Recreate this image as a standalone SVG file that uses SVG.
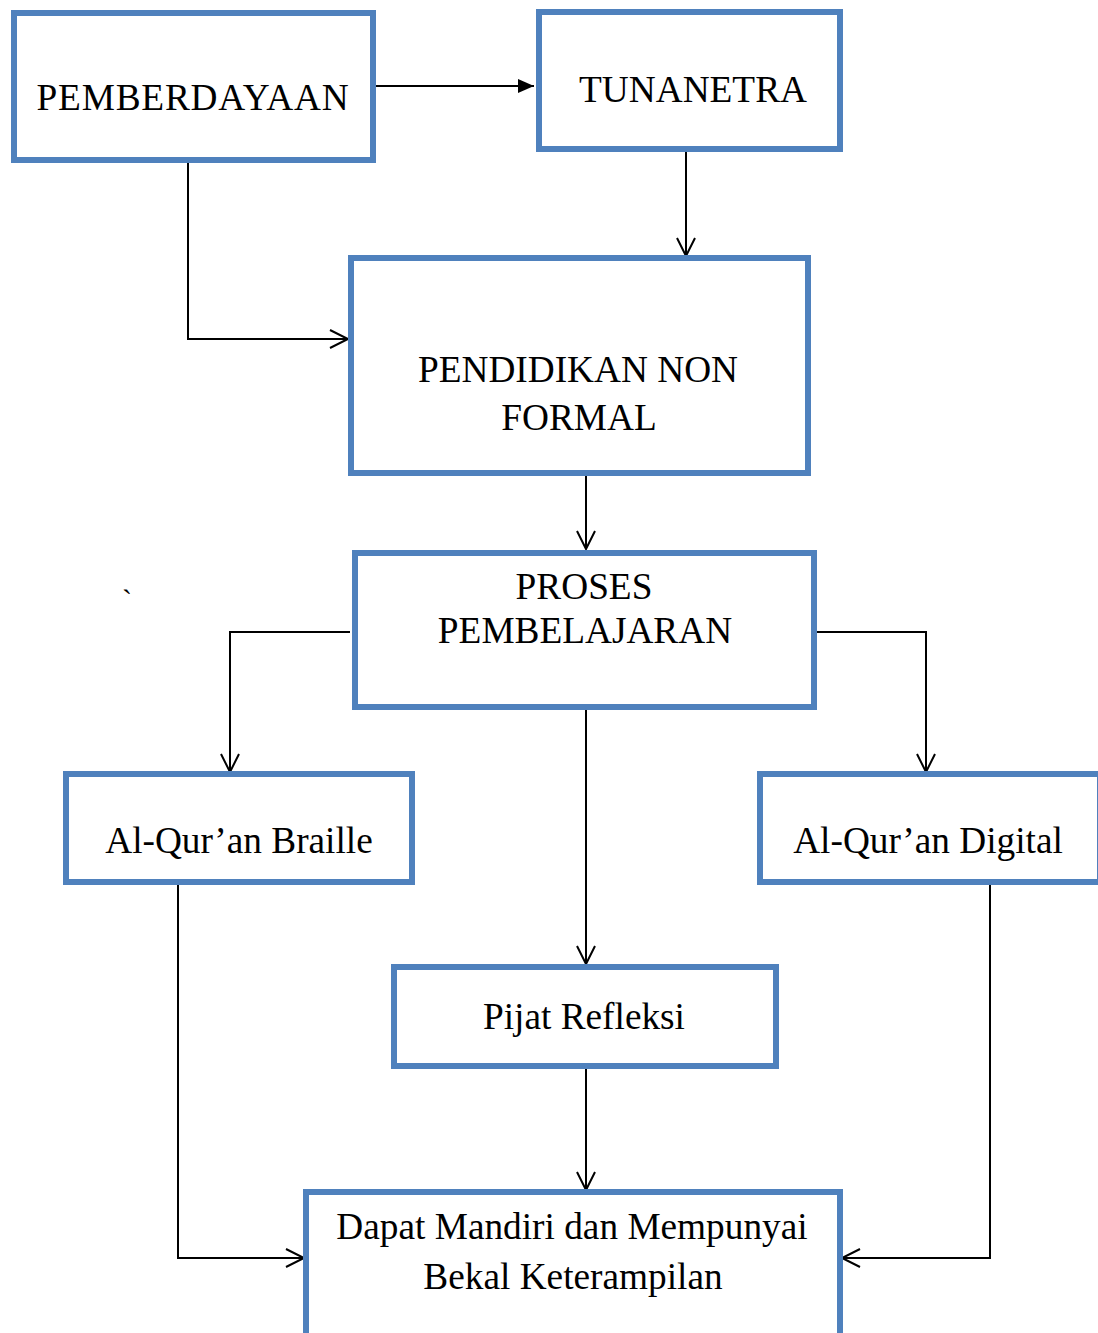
<svg xmlns="http://www.w3.org/2000/svg" width="1098" height="1333" viewBox="0 0 1098 1333">
<style>
.box{fill:#fff;stroke:#4F81BD;stroke-width:6}
.t{font-family:"Liberation Serif","Times New Roman",serif;font-size:37.3px;fill:#000;text-anchor:middle}
.c{fill:none;stroke:#000;stroke-width:2}
</style>
<defs>
<marker id="open" markerWidth="24" markerHeight="24" refX="20" refY="10" orient="auto" markerUnits="userSpaceOnUse">
<path d="M2,1 L20,10 L2,19" fill="none" stroke="#000" stroke-width="2"/>
</marker>
<marker id="solid" markerWidth="20" markerHeight="16" refX="16" refY="7" orient="auto" markerUnits="userSpaceOnUse">
<path d="M0,0 L16,7 L0,14 Z" fill="#000"/>
</marker>
</defs>
<rect width="1098" height="1333" fill="#fff"/>
<g id="connectors">
<line class="c" x1="376" y1="86" x2="534" y2="86" marker-end="url(#solid)"/>
<line class="c" x1="686" y1="152" x2="686" y2="256" marker-end="url(#open)"/>
<polyline class="c" points="188,163 188,339 348,339" marker-end="url(#open)"/>
<line class="c" x1="586" y1="476" x2="586" y2="549" marker-end="url(#open)"/>
<polyline class="c" points="350,632 230,632 230,772" marker-end="url(#open)"/>
<polyline class="c" points="817,632 926,632 926,772" marker-end="url(#open)"/>
<line class="c" x1="586" y1="710" x2="586" y2="964" marker-end="url(#open)"/>
<polyline class="c" points="178,885 178,1258 304,1258" marker-end="url(#open)"/>
<polyline class="c" points="990,885 990,1258 842,1258" marker-end="url(#open)"/>
<line class="c" x1="586" y1="1069" x2="586" y2="1190" marker-end="url(#open)"/>
</g>
<g id="n1"><rect class="box" x="14" y="13" width="359" height="147"/><text class="t" x="193" y="110" letter-spacing="0.8">PEMBERDAYAAN</text></g>
<g id="n2"><rect class="box" x="539" y="12" width="301" height="137"/><text class="t" x="693" y="102">TUNANETRA</text></g>
<g id="n3"><rect class="box" x="351" y="258" width="457" height="215"/><text class="t" x="578" y="382">PENDIDIKAN NON</text><text class="t" x="579" y="430">FORMAL</text></g>
<g id="n4"><rect class="box" x="355" y="553" width="459" height="154"/><text class="t" x="584" y="599">PROSES</text><text class="t" x="585" y="643">PEMBELAJARAN</text></g>
<g id="n5"><rect class="box" x="66" y="774" width="346" height="108"/><text class="t" x="239" y="853">Al-Qur’an Braille</text></g>
<g id="n6"><rect class="box" x="760" y="774" width="340" height="108"/><text class="t" x="928" y="853">Al-Qur’an Digital</text></g>
<g id="n7"><rect class="box" x="394" y="967" width="382" height="99"/><text class="t" x="584" y="1029">Pijat Refleksi</text></g>
<g id="n8"><rect class="box" x="306" y="1192" width="534" height="160"/><text class="t" x="572" y="1239">Dapat Mandiri dan Mempunyai</text><text class="t" x="573" y="1289">Bekal Keterampilan</text></g>
<text class="t" x="127" y="610" style="font-size:30px">`</text>
</svg>
